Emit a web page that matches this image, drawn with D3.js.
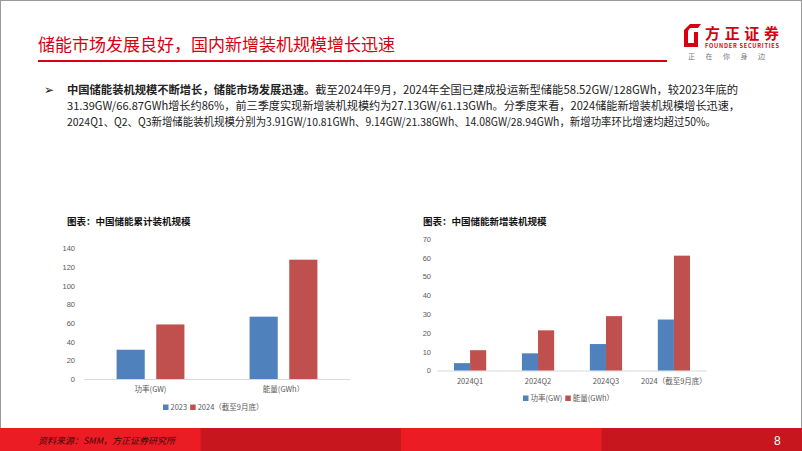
<!DOCTYPE html>
<html><head><meta charset="utf-8">
<script src="https://cdn.jsdelivr.net/npm/d3@7"></script>
<style>
html,body{margin:0;padding:0;background:#fff;}
svg{display:block;font-family:"Noto Sans CJK SC","Noto Sans",sans-serif;}
</style></head>
<body><svg id="c" width="802" height="451"></svg>
<script>
// ---- data ----
const cumCategories = ["功率(GW)", "能量(GWh）"];
const cumSeries = ["2023", "2024（截至9月底）"];
const cum2023 = [31.39, 66.87];
const cum2024 = [58.52, 128];
const cumTicks = [0, 20, 40, 60, 80, 100, 120, 140];

const newCategories = ["2024Q1", "2024Q2", "2024Q3", "2024（截至9月底）"];
const newSeries = ["功率(GW)", "能量(GWh）"];
const newPower = [3.91, 9.14, 14.08, 27.13];
const newEnergy = [10.81, 21.38, 28.94, 61.13];
const newTicks = [0, 10, 20, 30, 40, 50, 60, 70];

const BLUE = "#4f81bd", RED = "#c0504d", BRAND = "#d7000f";
const svg = d3.select("#c");

// frame
svg.append("rect").attr("x",0.5).attr("y",0.5).attr("width",801).attr("height",450)
  .attr("fill","none").attr("stroke","#9a9a9a");

// header
svg.append("text").attr("x",38).attr("y",51).attr("fill",BRAND)
  .attr("font-size",17).text("储能市场发展良好，国内新增装机规模增长迅速");
svg.append("rect").attr("x",38).attr("y",60).attr("width",629).attr("height",2).attr("fill",BRAND);

// logo
const lg = svg.append("g").attr("transform","translate(684,24)");
lg.append("path").attr("d","M6,0 L17,0 L14,4 L6,4 L4,7 L4,19 L10,19 L10,8 L14,8 L14,23 L0,23 L0,6 Z").attr("fill",BRAND);
lg.append("text").attr("x",21).attr("y",15).attr("fill",BRAND).attr("font-size",15).attr("font-weight",700)
  .attr("textLength",74).text("方正证券");
lg.append("text").attr("x",21).attr("y",24).attr("fill",BRAND).attr("font-size",5.6).attr("font-weight",700)
  .attr("textLength",74).text("FOUNDER SECURITIES");
["正","在","你","身","边"].forEach((t,i)=>{
  lg.append("text").attr("x",4+i*17.5).attr("y",35).attr("fill","#777").attr("font-size",7).text(t);
});

// bullet text
const bx = 67, fs = 11.2;
svg.append("text").attr("x",44).attr("y",94).attr("font-size",12).attr("fill","#222")
  .attr("font-family","DejaVu Sans, sans-serif").text("➢");
const lines = [
  [["中国储能装机规模不断增长，储能市场发展迅速。",true],["截至2024年9月，2024年全国已建成投运新型储能58.52GW/128GWh，较2023年底的",false]],
  [["31.39GW/66.87GWh增长约86%，前三季度实现新增装机规模约为27.13GW/61.13GWh。分季度来看，2024储能新增装机规模增长迅速，",false]],
  [["2024Q1、Q2、Q3新增储能装机规模分别为3.91GW/10.81GWh、9.14GW/21.38GWh、14.08GW/28.94GWh，新增功率环比增速均超过50%。",false]]
];
const lineLen = [671, 673, 649];
lines.forEach((ln,i)=>{
  const t = svg.append("text").attr("x",bx).attr("y",94+i*16).attr("font-size",fs).attr("fill","#222")
    .attr("textLength",lineLen[i]).attr("lengthAdjust","spacingAndGlyphs");
  ln.forEach(([s,b])=>t.append("tspan").attr("font-weight",b?700:400).text(s));
});

// ---- charts ----
function barChart(o){
  const g = svg.append("g");
  g.append("text").attr("x",o.titleX).attr("y",225).attr("font-size",9.5).attr("font-weight",700)
    .attr("fill","#111").text(o.title);
  const y = d3.scaleLinear().domain([0,o.max]).range([o.y0,o.y1]);
  const x0 = d3.scaleBand().domain(o.cats).range([o.x0,o.x1]).paddingInner(o.pi).paddingOuter(o.po);
  const x1 = d3.scaleBand().domain(o.series).range([0,x0.bandwidth()]).paddingInner(o.gap);
  const yAx = d3.axisLeft(y).tickValues(o.ticks).tickSize(0).tickPadding(o.tickPad);
  const ya = g.append("g").attr("transform",`translate(${o.x0},0)`).call(yAx);
  ya.select(".domain").remove();
  ya.selectAll("text").attr("font-size",7.5).attr("fill","#595959").attr("font-family","Liberation Sans, sans-serif");
  g.append("line").attr("x1",o.x0).attr("x2",o.x1).attr("y1",o.y0+0.5).attr("y2",o.y0+0.5).attr("stroke","#d9d9d9");
  o.cats.forEach((c,ci)=>{
    o.series.forEach((s,si)=>{
      const v = o.vals[si][ci];
      g.append("rect").attr("x",x0(c)+x1(s)).attr("width",x1.bandwidth())
        .attr("y",y(v)).attr("height",y(0)-y(v)).attr("fill",o.colors[si]);
    });
    g.append("text").attr("x",x0(c)+x0.bandwidth()/2).attr("y",o.y0+13).attr("text-anchor","middle")
      .attr("font-size",7.5).attr("fill","#595959").text(c);
  });
  const lgd = g.append("g").attr("transform",`translate(${o.legX},${o.legY})`);
  let cx = 0;
  o.series.forEach((s,si)=>{
    lgd.append("rect").attr("x",cx).attr("y",-5.5).attr("width",5.5).attr("height",5.5).attr("fill",o.colors[si]);
    const t = lgd.append("text").attr("x",cx+7.5).attr("y",0).attr("font-size",7.5).attr("fill","#595959").text(s);
    cx += 7.5 + t.node().getComputedTextLength() + 3;
  });
}

barChart({title:"图表：中国储能累计装机规模", titleX:67, cats:cumCategories, series:cumSeries,
  vals:[cum2023,cum2024], colors:[BLUE,RED], max:140, ticks:cumTicks,
  x0:84, x1:350, y0:379, y1:248.5, pi:0.49, po:0.245, gap:0.29, tickPad:9,
  legX:163, legY:410});

barChart({title:"图表：中国储能新增装机规模", titleX:423, cats:newCategories, series:newSeries,
  vals:[newPower,newEnergy], colors:[BLUE,RED], max:70, ticks:newTicks,
  x0:437, x1:707, y0:370.5, y1:239, pi:0.526, po:0.25, gap:0, tickPad:6,
  legX:523, legY:401});

// footer
const fcol = ["#ec1c24","#c8161e","#ec1c24","#c8161e"];
fcol.forEach((c,i)=>svg.append("rect").attr("x",i*200.5).attr("y",428).attr("width",201).attr("height",23).attr("fill",c));
svg.append("text").attr("x",38).attr("y",444).attr("font-size",9).attr("font-style","italic")
  .attr("fill","#3a0a0a").text("资料来源：SMM，方正证券研究所");
svg.append("text").attr("x",774).attr("y",445).attr("font-size",12).attr("fill","#fff")
  .attr("font-family","Liberation Sans, sans-serif").text("8");
</script></body></html>
